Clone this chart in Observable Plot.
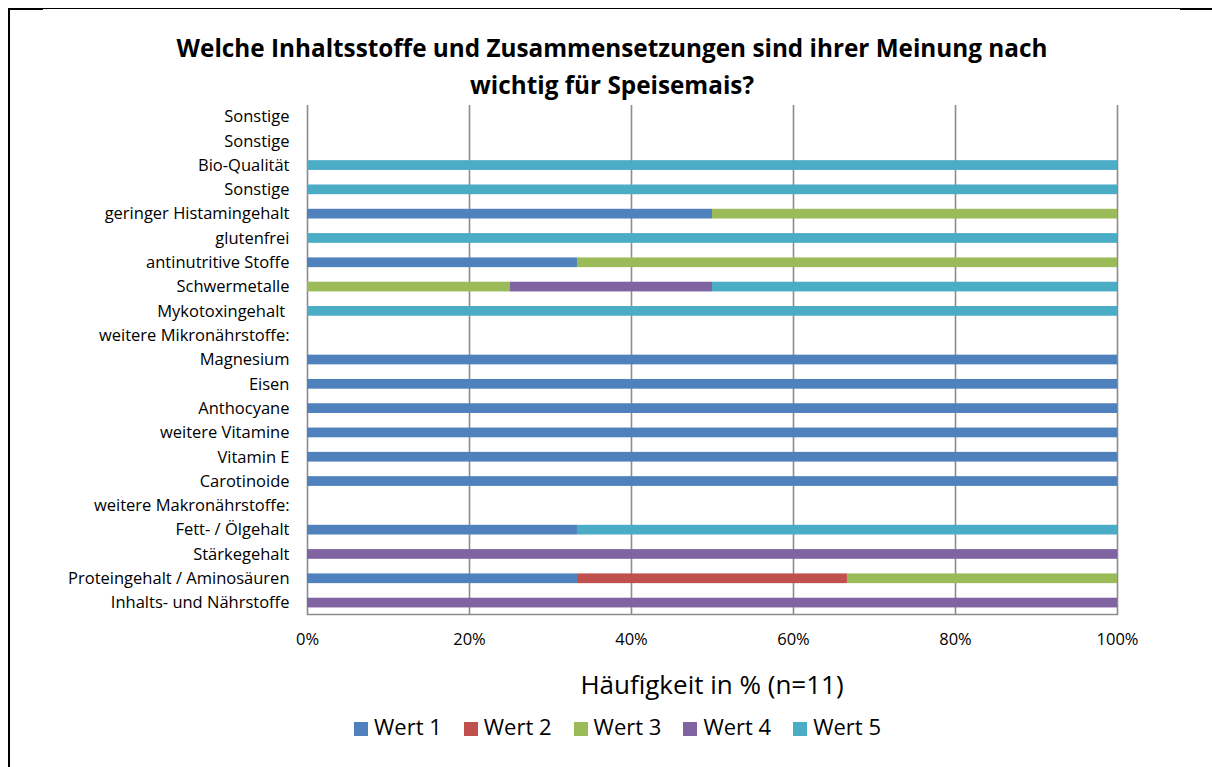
<!DOCTYPE html>
<html><head><meta charset="utf-8">
<script src="https://cdn.jsdelivr.net/npm/d3@7"></script>
<script src="https://cdn.jsdelivr.net/npm/@observablehq/plot@0.6"></script>
<style>
html,body{margin:0;background:#fff;font-family:"Open Sans",sans-serif;overflow:hidden;}
#wrap{position:relative;width:1212px;height:767px;overflow:hidden;}
#frame{position:absolute;left:8px;top:8px;width:1300px;height:900px;border-left:2px solid #000;border-top:1px solid #000;box-sizing:border-box;}
.seg{position:absolute;height:2px;background:#000;top:8px;}
#title{position:absolute;left:0;width:1224px;top:29px;text-align:center;font-weight:bold;font-size:24.3px;line-height:37px;color:#000;}
#chart{position:absolute;left:0;top:0;}
#xlabel{position:absolute;left:307px;width:810px;top:667px;text-align:center;font-size:26px;line-height:35px;color:#000;}
#legend{position:absolute;left:0;width:1235px;top:711px;text-align:center;font-size:22px;line-height:30px;color:#000;}
#legend span.item{display:inline-block;margin:0 11px;}
#legend span.sw{display:inline-block;width:14px;height:14px;margin-right:6px;vertical-align:-1px;}
</style></head>
<body><div id="wrap"><div id="frame"></div>
<div class="seg" style="left:8px;width:35px;"></div>
<div class="seg" style="left:1180px;width:40px;top:8px;"></div>
<div id="title">Welche Inhaltsstoffe und Zusammensetzungen sind ihrer Meinung nach<br>wichtig für Speisemais?</div>
<div id="chart"></div>
<div id="xlabel">Häufigkeit in % (n=11)</div>
<div id="legend"></div>
</div>
<script>
const categories = ["Sonstige","Sonstige","Bio-Qualität","Sonstige","geringer Histamingehalt","glutenfrei","antinutritive Stoffe","Schwermetalle","Mykotoxingehalt ","weitere Mikronährstoffe:","Magnesium","Eisen","Anthocyane","weitere Vitamine","Vitamin E","Carotinoide","weitere Makronährstoffe:","Fett- / Ölgehalt","Stärkegehalt","Proteingehalt / Aminosäuren","Inhalts- und Nährstoffe"];
const seriesNames = ["Wert 1","Wert 2","Wert 3","Wert 4","Wert 5"];
const seriesColors = ["#4F81BD","#C0504D","#9BBB59","#8064A2","#4BACC6"];
const wert1 = [0,0,0,0,50,0,33.33,0,0,0,100,100,100,100,100,100,0,33.33,0,33.33,0];
const wert2 = [0,0,0,0,0,0,0,0,0,0,0,0,0,0,0,0,0,0,0,33.33,0];
const wert3 = [0,0,0,0,50,0,66.67,25,0,0,0,0,0,0,0,0,0,0,0,33.34,0];
const wert4 = [0,0,0,0,0,0,0,25,0,0,0,0,0,0,0,0,0,0,100,0,100];
const wert5 = [0,0,100,100,0,100,0,50,100,0,0,0,0,0,0,0,0,66.67,0,0,0];
const xTicks = [0,20,40,60,80,100];

const seriesValues = [wert1,wert2,wert3,wert4,wert5];
const data = [];
categories.forEach((c,i)=>{
  seriesValues.forEach((vals,s)=>{
    if (vals[i] > 0) data.push({idx:i, series:seriesNames[s], value:vals[i]});
  });
});

const chart = Plot.plot({
  width:1212, height:767,
  marginLeft:307, marginRight:95, marginTop:105, marginBottom:153,
  style:{fontFamily:"'Open Sans', sans-serif", color:"#000", background:"transparent"},
  x:{domain:[0,100], ticks:xTicks, tickFormat:d=>d+"%", label:null},
  y:{domain:d3.range(categories.length), paddingInner:0.6, paddingOuter:0.27, round:false, label:null},
  color:{domain:seriesNames, range:seriesColors},
  marks:[
    Plot.ruleX(xTicks,{stroke:"#8c8c8c",strokeWidth:1.6}),
    Plot.frame({anchor:"bottom", stroke:"#8c8c8c", strokeWidth:1.6}),
    Plot.barX(data,{y:"idx", x:"value", fill:"series", order:seriesNames}),
    Plot.axisX({ticks:xTicks, tickFormat:d=>d+"%", tickSize:0, tickPadding:19, fontSize:16.5, label:null}),
    Plot.axisY({tickFormat:i=>categories[i], tickSize:0, tickPadding:18, fontSize:16.5, label:null})
  ]
});
document.getElementById("chart").appendChild(chart);

const lg = document.getElementById("legend");
seriesNames.forEach((n,i)=>{
  const it = document.createElement("span"); it.className="item";
  const sw = document.createElement("span"); sw.className="sw"; sw.style.background=seriesColors[i];
  it.appendChild(sw); it.appendChild(document.createTextNode(n)); lg.appendChild(it);
});
</script></body></html>
